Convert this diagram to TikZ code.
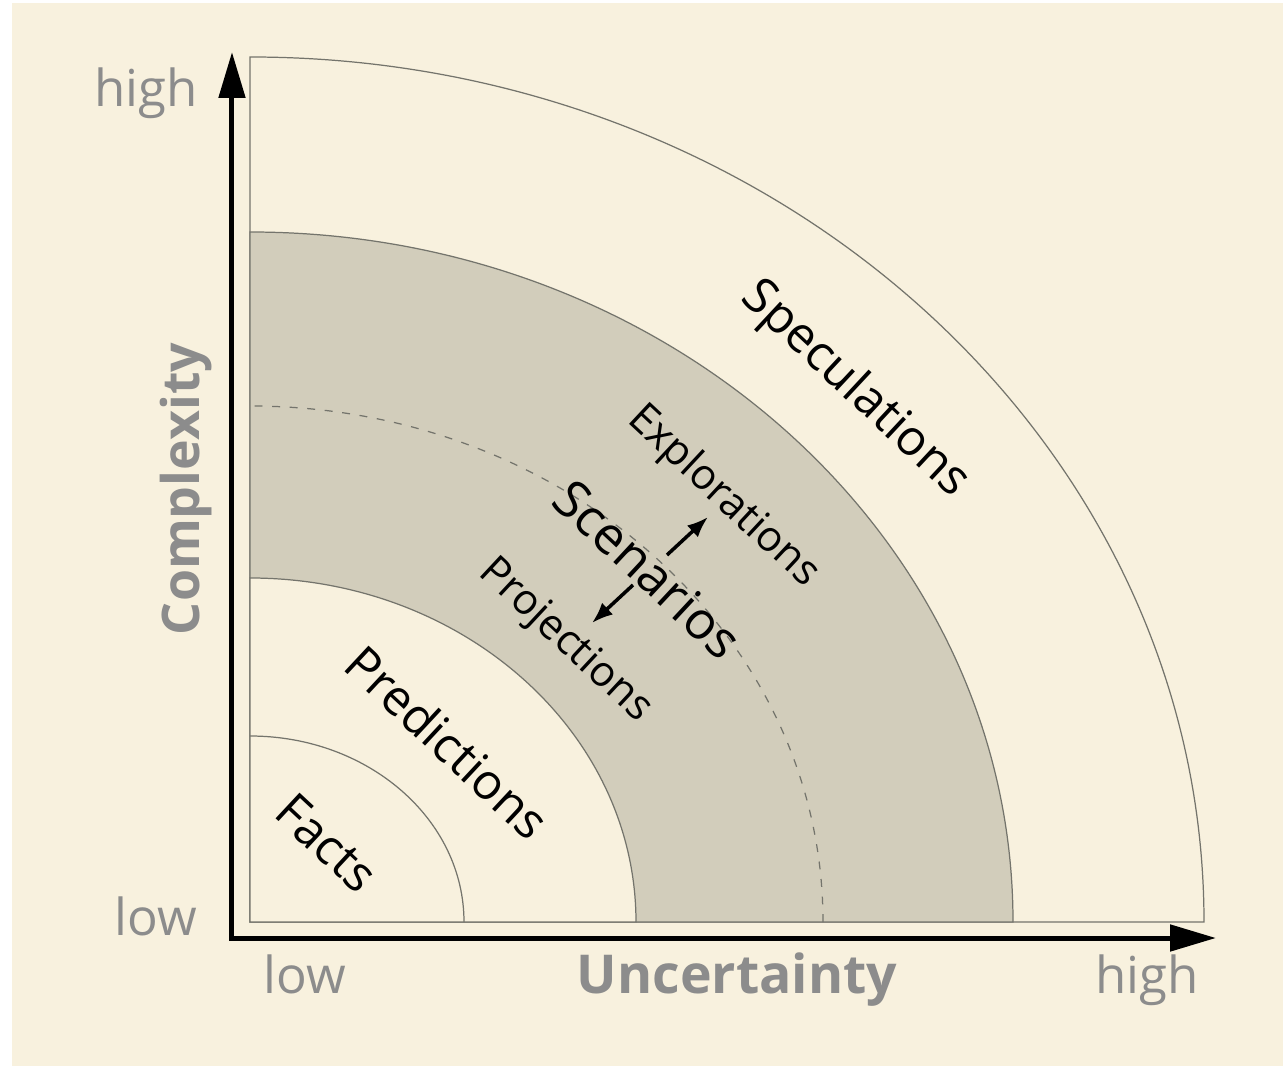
\documentclass[tikz,border=0pt]{standalone}
\usepackage{fontspec}
\setmainfont{Open Sans}
\usetikzlibrary{arrows.meta}
\definecolor{creme}{HTML}{F8F1DE}
\definecolor{faixa}{HTML}{D2CDBB}
\definecolor{cinza}{HTML}{8C8C8C}
\definecolor{borda}{HTML}{74746C}
\begin{document}
\begin{tikzpicture}[
		zona/.style={draw=borda, line width=0.7pt},
		rotulo/.style={font=\fontsize{28}{32}\selectfont, rotate=-43, inner sep=0pt},
		subrotulo/.style={font=\fontsize{24}{28}\selectfont, rotate=-43, inner sep=0pt},
		eixolbl/.style={font=\fontsize{29}{33}\selectfont, text=cinza, anchor=base, inner sep=0pt},
		seta/.style={line width=2pt, -{Latex[length=0.42cm,width=0.32cm]}}
	]
	\useasboundingbox (-5,-2.88) rectangle (20.66,18.44);
	\fill[white] (-5,-2.88) rectangle (20.66,18.44);
	\fill[creme] (-4.76,-2.88) rectangle (20.66,18.38);
	
	% Regiões (quartos de elipse)
	\filldraw[zona, fill=creme] (0,0) -- (19.08,0) arc[start angle=0, end angle=90, x radius=19.08, y radius=17.30] -- cycle;
	\filldraw[zona, fill=faixa] (0,0) -- (15.26,0) arc[start angle=0, end angle=90, x radius=15.26, y radius=13.80] -- cycle;
	\draw[borda, line width=0.7pt, dash pattern=on 4.5pt off 5.5pt] (11.46,0) arc[start angle=0, end angle=90, x radius=11.46, y radius=10.32];
	\filldraw[zona, fill=creme] (0,0) -- (7.72,0) arc[start angle=0, end angle=90, x radius=7.72, y radius=6.88] -- cycle;
	\draw[zona] (4.28,0) arc[start angle=0, end angle=90, x radius=4.28, y radius=3.72];
	
	% Eixos
	\draw[line width=0.1cm, line join=miter, {Triangle[length=0.92cm,width=0.52cm]}-{Triangle[length=0.92cm,width=0.52cm]}] (-0.36,17.4) -- (-0.36,-0.32) -- (19.32,-0.32);
	
	% Rótulos dos eixos
	\node[eixolbl] (yalto) at (-2.08,16.30) {high};
	\node[eixolbl] (ybaixo) at (-1.88,-0.26) {low};
	\node[eixolbl] (xbaixo) at (1.10,-1.42) {low};
	\node[eixolbl, font=\fontsize{30.5}{34}\selectfont\bfseries] (incerteza) at (9.74,-1.42) {Uncertainty};
	\node[eixolbl] (xalto) at (17.94,-1.42) {high};
	\node[eixolbl, font=\fontsize{29.5}{34}\selectfont\bfseries, rotate=90] (complexidade) at (-1.0,8.66) {Complexity};
	
	% Rótulos das regiões
	\node[rotulo] (fatos) at (1.54,1.58) {Facts};
	\node[rotulo] (previsoes) at (3.96,3.60) {Predictions};
	\node[subrotulo] (projecoes) at (6.30,5.62) {Projections};
	\node[rotulo, font=\fontsize{29.5}{34}\selectfont] (cenarios) at (7.96,7.06) {Scenarios};
	\node[subrotulo] (exploracoes) at (9.46,8.50) {Explorations};
	\node[rotulo] (especulacoes) at (12.10,10.64) {Speculations};
	
	% Setas
	\coordinate (setaA) at (8.34,7.34);
	\coordinate (setaB) at (9.16,8.10);
	\coordinate (setaC) at (7.66,6.74);
	\coordinate (setaD) at (6.84,5.98);
	\draw[seta] (setaA) -- (setaB);
	\draw[seta] (setaC) -- (setaD);
\end{tikzpicture}
\end{document}
